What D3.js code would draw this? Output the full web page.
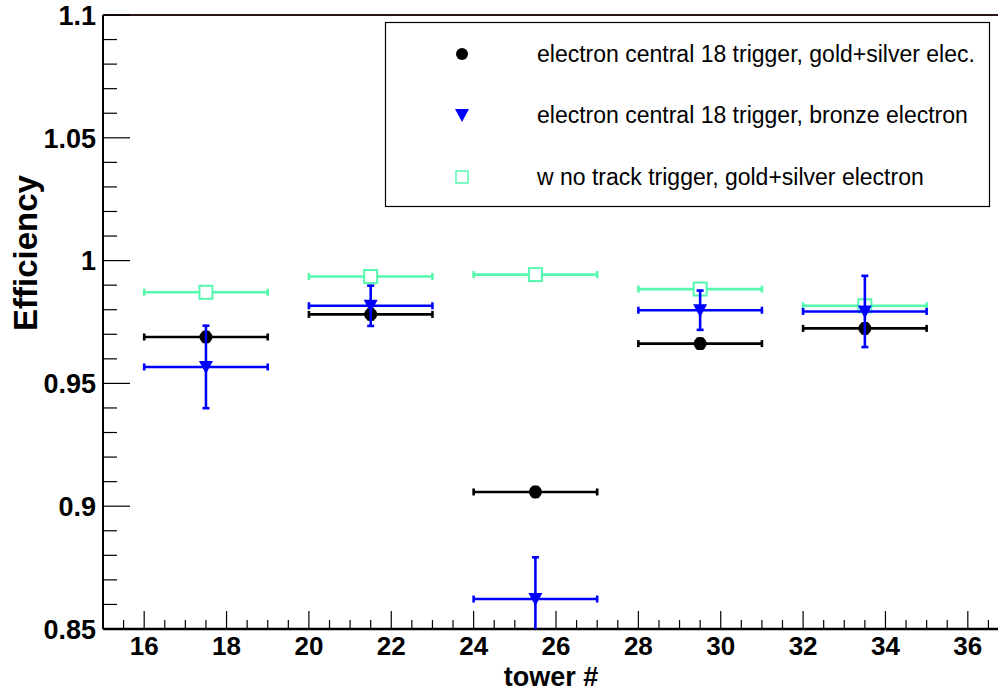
<!DOCTYPE html>
<html>
<head>
<meta charset="utf-8">
<script src="https://cdn.jsdelivr.net/npm/d3@7"></script>
<style>
body { margin: 0; background: #fff; }
svg { display: block; font-family: "Liberation Sans", Arial, Helvetica, sans-serif; }
</style>
</head>
<body>
<svg id="chart" width="998" height="692"></svg>
<script>
// ---- data ----
const towerCenters = [17.5, 21.5, 25.5, 29.5, 33.5];
const towerHalfWidth = [1.5, 1.5, 1.5, 1.5, 1.5];
const goldSilverEff = [0.9689, 0.9781, 0.9058, 0.9662, 0.9724];
const goldSilverErr = [0.002, 0.002, 0.002, 0.002, 0.002];
const bronzeEff = [0.9567, 0.9816, 0.8622, 0.9798, 0.9793];
const bronzeErr = [0.0168, 0.0082, 0.0170, 0.0080, 0.0145];
const noTrackEff = [0.9871, 0.9935, 0.9943, 0.9884, 0.9816];
const noTrackErr = [0.0, 0.0, 0.0, 0.0, 0.0];
const xTicks = [16, 18, 20, 22, 24, 26, 28, 30, 32, 34, 36];
const yTicks = [0.85, 0.9, 0.95, 1, 1.05, 1.1];
const yTickLabels = ["0.85", "0.9", "0.95", "1", "1.05", "1.1"];
const seriesNames = [
  "electron central 18 trigger, gold+silver elec.",
  "electron central 18 trigger, bronze electron",
  "w no track trigger, gold+silver electron"
];

const colors = ["#000000", "#0000ff", "#55f9ad"];

(function () {
const svg = d3.select("#chart");
const pL = 103, pR = 1009, pT = 15, pB = 629;
const x = d3.scaleLinear().domain([15, 37]).range([pL, pR]);
const y = d3.scaleLinear().domain([0.85, 1.1]).range([pB, pT]);

// clip
svg.append("defs").append("clipPath").attr("id", "clip")
  .append("rect").attr("x", pL).attr("y", pT).attr("width", pR - pL).attr("height", pB - pT);

// frame top line
svg.append("line").attr("x1", pL).attr("x2", 998).attr("y1", pT).attr("y2", pT)
  .attr("stroke", "#2b1414").attr("stroke-width", 2);

// y axis
svg.append("line").attr("x1", pL).attr("x2", pL).attr("y1", pT).attr("y2", pB)
  .attr("stroke", "#000").attr("stroke-width", 2);
const yMinor = d3.range(85, 111, 1).map(v => v / 100);
svg.append("g").selectAll("line").data(yMinor).join("line")
  .attr("x1", pL).attr("x2", d => pL + (Math.round(d * 100) % 5 === 0 ? 27 : 14))
  .attr("y1", d => y(d)).attr("y2", d => y(d))
  .attr("stroke", "#000").attr("stroke-width", 1.2);
svg.append("g").selectAll("text").data(yTicks).join("text")
  .attr("x", 96).attr("y", d => y(d)).attr("dy", "0.36em")
  .attr("text-anchor", "end").attr("font-size", 27).attr("font-weight", "bold")
  .text((d, i) => yTickLabels[i]);

// x axis
svg.append("line").attr("x1", pL).attr("x2", 998).attr("y1", pB).attr("y2", pB)
  .attr("stroke", "#000").attr("stroke-width", 2.5);
const xMinor = d3.range(15.5, 37, 0.5);
svg.append("g").selectAll("line").data(xMinor).join("line")
  .attr("x1", d => x(d)).attr("x2", d => x(d))
  .attr("y1", pB).attr("y2", d => pB - (d % 2 === 0 ? 18 : 9))
  .attr("stroke", "#000").attr("stroke-width", 1.2);
svg.append("g").selectAll("text").data(xTicks).join("text")
  .attr("x", d => x(d)).attr("y", 655)
  .attr("text-anchor", "middle").attr("font-size", 26).attr("font-weight", "bold")
  .text(d => d);

// axis titles
svg.append("text").attr("x", 551).attr("y", 686).attr("text-anchor", "middle")
  .attr("font-size", 27).attr("font-weight", "bold").text("tower #");
svg.append("text").attr("transform", "translate(37,253) rotate(-90)").attr("text-anchor", "middle")
  .attr("font-size", 33).attr("font-weight", "bold").text("Efficiency");

function drawMarker(g, type, cx, cy, color) {
  if (type === "circle") {
    g.append("circle").attr("cx", cx).attr("cy", cy).attr("r", 6.5).attr("fill", color);
  } else if (type === "tri") {
    g.append("path").attr("d", `M${cx - 7},${cy - 6} L${cx + 7},${cy - 6} L${cx},${cy + 7} Z`).attr("fill", color);
  } else {
    g.append("rect").attr("x", cx - 6.5).attr("y", cy - 6.5).attr("width", 13).attr("height", 13)
      .attr("fill", "#fff").attr("stroke", color).attr("stroke-width", 2);
  }
}

// data
const series = [
  { eff: goldSilverEff, err: goldSilverErr, color: colors[0], marker: "circle" },
  { eff: bronzeEff, err: bronzeErr, color: colors[1], marker: "tri" },
  { eff: noTrackEff, err: noTrackErr, color: colors[2], marker: "square" }
];
const plot = svg.append("g").attr("clip-path", "url(#clip)");
const drawOrder = [2, 0, 1];
drawOrder.forEach(si => {
  const s = series[si];
  const g = plot.append("g");
  towerCenters.forEach((c, i) => {
    const cx = x(c), cy = y(s.eff[i]);
    const x0 = x(c - towerHalfWidth[i]), x1 = x(c + towerHalfWidth[i]);
    g.append("line").attr("x1", x0).attr("x2", x1).attr("y1", cy).attr("y2", cy)
      .attr("stroke", s.color).attr("stroke-width", 2.6);
    g.append("line").attr("x1", x0).attr("x2", x0).attr("y1", cy - 3.5).attr("y2", cy + 3.5)
      .attr("stroke", s.color).attr("stroke-width", 2.6);
    g.append("line").attr("x1", x1).attr("x2", x1).attr("y1", cy - 3.5).attr("y2", cy + 3.5)
      .attr("stroke", s.color).attr("stroke-width", 2.6);
    if (s.err[i] > 0) {
      const ya = y(s.eff[i] + s.err[i]), yb = y(s.eff[i] - s.err[i]);
      g.append("line").attr("x1", cx).attr("x2", cx).attr("y1", ya).attr("y2", yb)
        .attr("stroke", s.color).attr("stroke-width", 2.6);
      g.append("line").attr("x1", cx - 3.5).attr("x2", cx + 3.5).attr("y1", ya).attr("y2", ya)
        .attr("stroke", s.color).attr("stroke-width", 2.6);
      g.append("line").attr("x1", cx - 3.5).attr("x2", cx + 3.5).attr("y1", yb).attr("y2", yb)
        .attr("stroke", s.color).attr("stroke-width", 2.6);
    }
    drawMarker(g, s.marker, cx, cy, s.color);
  });
});

// legend
svg.append("rect").attr("x", 385.5).attr("y", 22.5).attr("width", 604).attr("height", 184)
  .attr("fill", "#fff").attr("stroke", "#000").attr("stroke-width", 1.2);
const legendY = [54, 115, 177];
const legMarkers = ["circle", "tri", "square"];
seriesNames.forEach((name, i) => {
  const lg = svg.append("g");
  if (legMarkers[i] === "circle") {
    lg.append("circle").attr("cx", 462).attr("cy", legendY[i]).attr("r", 6).attr("fill", colors[i]);
  } else if (legMarkers[i] === "tri") {
    lg.append("path").attr("d", `M${455},${legendY[i] - 6} L${469},${legendY[i] - 6} L${462},${legendY[i] + 7} Z`).attr("fill", colors[i]);
  } else {
    lg.append("rect").attr("x", 456).attr("y", legendY[i] - 6).attr("width", 12).attr("height", 12)
      .attr("fill", "#fff").attr("stroke", colors[i]).attr("stroke-width", 1.5);
  }
  lg.append("text").attr("x", 537).attr("y", legendY[i]).attr("dy", "0.36em")
    .attr("font-size", 23).attr("fill", "#000").text(name);
});
})();
</script>
</body>
</html>
